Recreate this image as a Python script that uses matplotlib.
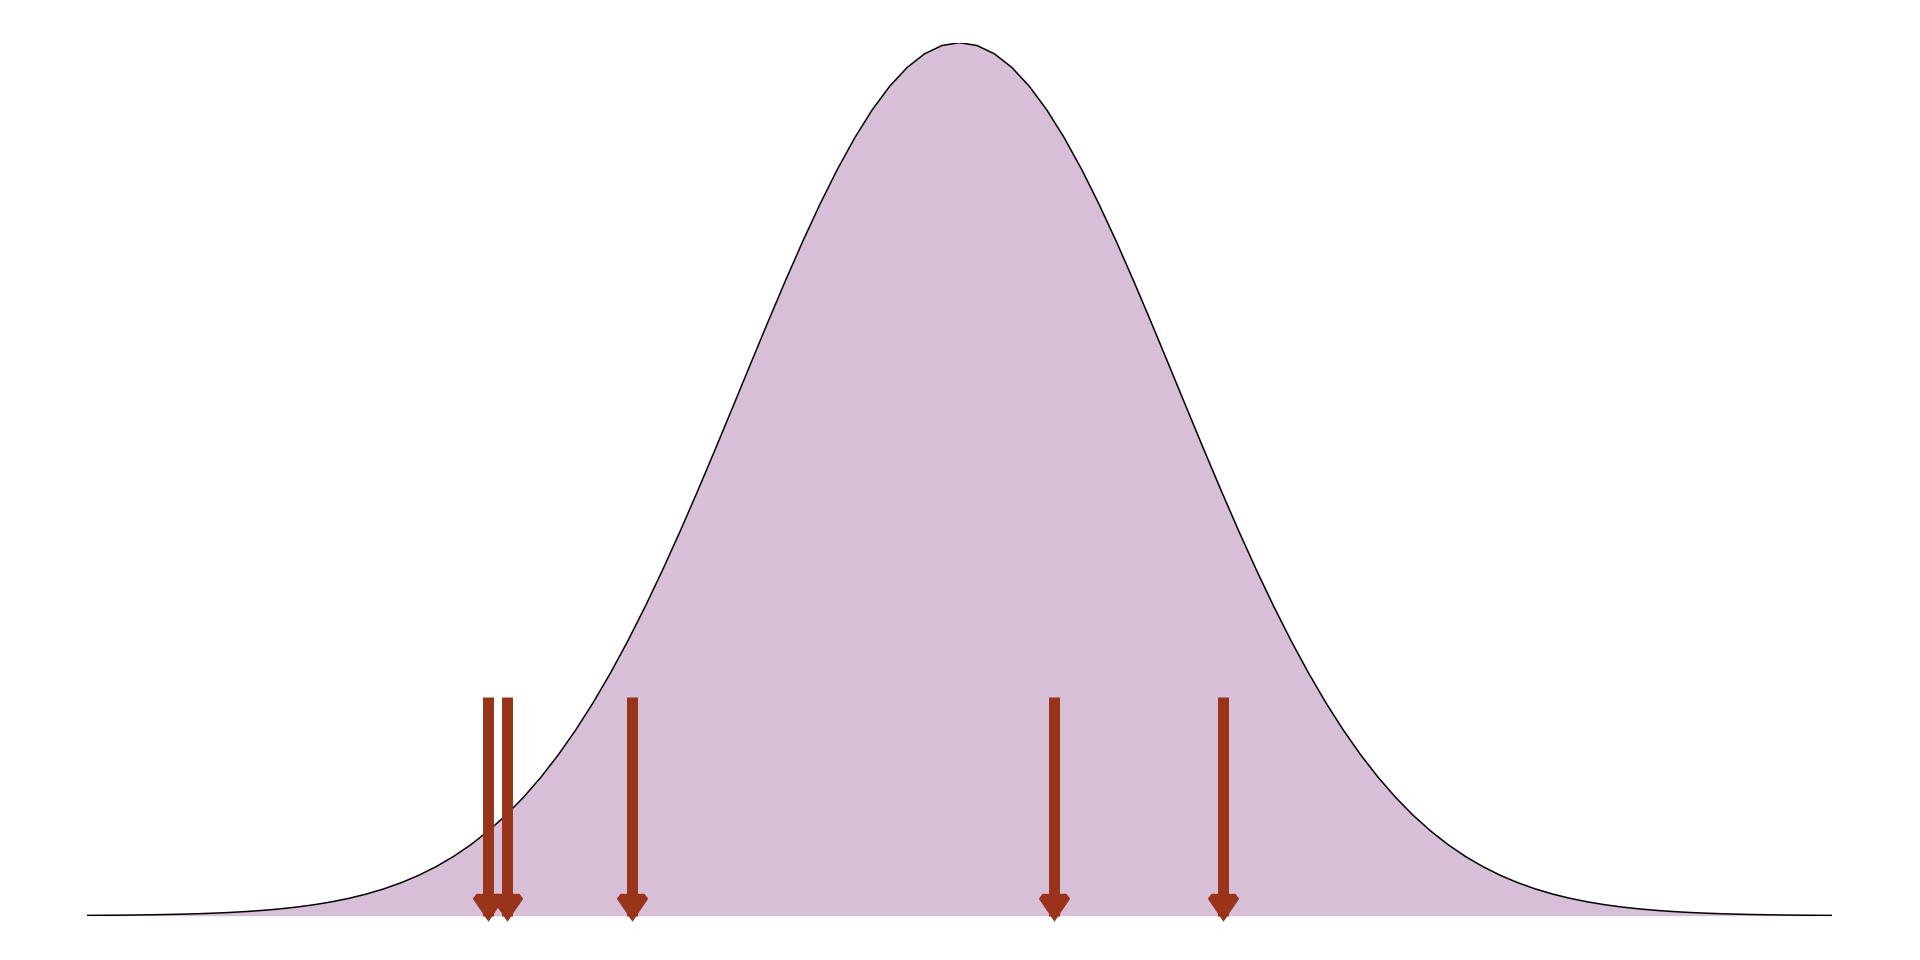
import numpy as np
import matplotlib
matplotlib.use("Agg")
import matplotlib.pyplot as plt
from matplotlib.path import Path

# standard normal density curve
x_grid = np.linspace(-4, 4, 101)
density = np.exp(-x_grid**2 / 2) / np.sqrt(2 * np.pi)

# observed values marked by arrows
obs = [-2.160, -2.073, -1.500, 0.431, 1.210]
arrow_top = 0.1
arrow_bottom = 0.0

fill_col = "#D8BFD8"
arrow_col = "#993319"

fig = plt.figure(figsize=(19.2, 9.6), dpi=100)
ax = fig.add_axes([87 / 1920, 44.3 / 960, 1745 / 1920, 873 / 960])

ax.fill_between(x_grid, density, 0, color=fill_col, lw=0)
ax.plot(x_grid, density, color="black", lw=1.1)

ax.set_xlim(-4, 4)
ax.set_ylim(0, density.max())
ax.axis("off")

# arrow shafts
ax.vlines(obs, arrow_bottom, arrow_top, colors=arrow_col, lw=7.9,
          capstyle="butt", clip_on=False, zorder=5)

# arrow heads: custom marker in pixel units, origin at the arrow end
head = Path([(0, -5.3), (15.7, 17.7), (12, 22.7), (-12, 22.7),
             (-15.7, 17.7), (0, -5.3)])
ms = 2 * 22.7 * 72 / 100
ax.plot(obs, [arrow_bottom] * len(obs), ls="none", marker=head,
        ms=ms, mew=0, color=arrow_col, clip_on=False, zorder=6)

fig.savefig("out.png", dpi=100, facecolor="white")
